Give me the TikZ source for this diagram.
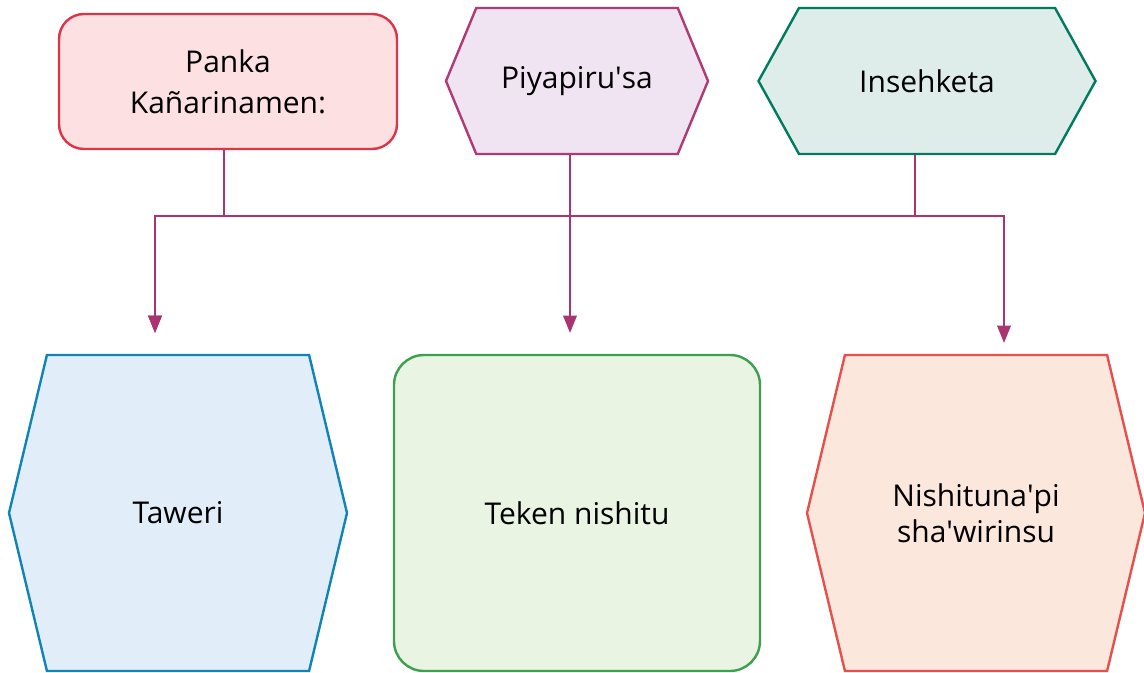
\documentclass[tikz,border=0pt]{standalone}
\usepackage{fontspec}
\setmainfont{Open Sans}
\usetikzlibrary{arrows.meta,shapes.symbols}
\definecolor{linkc}{RGB}{170,52,112}
\definecolor{pankad}{RGB}{220,52,72}
\definecolor{pankaf}{RGB}{253,225,226}
\definecolor{piyad}{RGB}{176,58,120}
\definecolor{piyaf}{RGB}{241,228,242}
\definecolor{insed}{RGB}{0,122,96}
\definecolor{insef}{RGB}{222,237,233}
\definecolor{taweid}{RGB}{16,132,180}
\definecolor{taweif}{RGB}{225,238,249}
\definecolor{tekend}{RGB}{60,160,80}
\definecolor{tekenf}{RGB}{234,244,226}
\definecolor{nishid}{RGB}{230,80,76}
\definecolor{nishif}{RGB}{252,231,220}
\newcommand{\aps}{\textquotesingle}
\tikzset{
    rbox/.style={rectangle,rounded corners=18.75pt,draw,line width=1.8pt,align=center,font=\fontsize{22.5}{27}\selectfont},
    hexa/.style={signal,signal to=east and west,draw,line width=1.8pt,inner sep=0pt,align=center,font=\fontsize{22.5}{27}\selectfont},
    link/.style={->,>={Triangle[length=13pt,width=10pt]},draw=linkc,line width=1.8pt},
}

\begin{document}
\begin{tikzpicture}[x=0.75pt,y=-0.75pt]
    \useasboundingbox (0,0) rectangle (1144,673);
    \node[rbox,draw=pankad,fill=pankaf,minimum width=253.5pt,minimum height=101.25pt] (panka) at (228,81.5) {Panka\\[4pt]Kañarinamen:};
    \node[hexa,draw=piyad,fill=piyaf,minimum width=196.5pt,minimum height=109.5pt,signal pointer angle=135] (piya) at (577,81) {Piyapiru\aps sa};
    \node[hexa,draw=insed,fill=insef,minimum width=252.75pt,minimum height=109.5pt,signal pointer angle=122] (inse) at (927,81) {Insehketa};
    \node[hexa,draw=taweid,fill=taweif,minimum width=253.5pt,minimum height=237pt,signal pointer angle=153] (taweri) at (178,513) {Taweri};
    \node[rbox,rounded corners=22.5pt,draw=tekend,fill=tekenf,minimum width=274.5pt,minimum height=237pt] (teken) at (577,513) {Teken nishitu};
    \node[hexa,draw=nishid,fill=nishif,minimum width=253.5pt,minimum height=237pt,signal pointer angle=153] (nishi) at (976,513) {Nishituna\aps pi\\sha\aps wirinsu};
    \coordinate (bus) at (0,216);
    \coordinate (tawin) at (155,333);
    \coordinate (tekin) at (570,333);
    \coordinate (nishin) at (1004,343);
    \draw[link] ([xshift=-3pt]panka.south) -- ([xshift=-3pt]panka.south |- bus) -| (tawin);
    \draw[link] ([xshift=-9pt]inse.south) -- ([xshift=-9pt]inse.south |- bus) -| (tawin);
    \draw[link] ([xshift=-9pt]inse.south) -- ([xshift=-9pt]inse.south |- bus) -| (nishin);
    \draw[link] (piya.south -| tekin) -- (tekin);
\end{tikzpicture}
\end{document}
